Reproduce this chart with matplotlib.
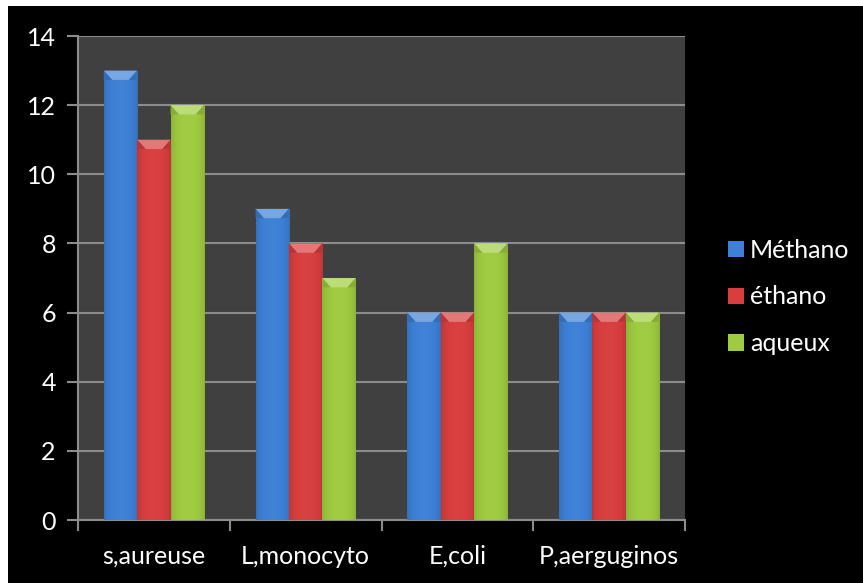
import numpy as np
import matplotlib
matplotlib.use("Agg")
import matplotlib.pyplot as plt
from matplotlib.patches import Rectangle, Polygon, Patch
from matplotlib.colors import to_rgb

plt.rcParams['font.family'] = ['Lato', 'DejaVu Sans']

categories = ["s,aureuse", "L,monocyto", "E,coli", "P,aerguginos"]
series_names = ["Méthano", "éthano", "aqueux"]
methano = [13, 9, 6, 6]
ethano = [11, 8, 6, 6]
aqueux = [12, 7, 8, 6]
yticks = [0, 2, 4, 6, 8, 10, 12, 14]

colors = ["#3d80d6", "#d83e3e", "#9fcb40"]
plot_bg = "#404040"
grid_col = "#8c8c8c"
fs = 18

fig = plt.figure(figsize=(8.63, 5.83), dpi=100, facecolor="white")
# black chart frame, leaving a thin white margin at top and left
fig.patches.append(Rectangle((8 / 863, 0), 1, 1 - 6 / 583, transform=fig.transFigure,
                             facecolor="black", edgecolor="none", zorder=-10))

ax = fig.add_axes([78 / 863, 1 - 520 / 583, (685 - 78) / 863, (520 - 36) / 583])
ax.set_facecolor(plot_bg)

n_cat = len(categories)
x = np.arange(n_cat)
width = 0.22
offsets = [-width, 0, width]
ymax = yticks[-1]

# bevel cap size
cap_h = 0.27  # data units
cap_in = 0.25  # fraction of bar width

def shade(c, f):
    r, g, b = to_rgb(c)
    if f >= 0:
        return (r + (1 - r) * f, g + (1 - g) * f, b + (1 - b) * f)
    f = -f
    return (r * (1 - f), g * (1 - f), b * (1 - f))

for vals, off, col in zip([methano, ethano, aqueux], offsets, colors):
    bars = ax.bar(x + off, vals, width, color=col, edgecolor="none", zorder=3)
    for rect, v in zip(bars, vals):
        x0 = rect.get_x()
        w = rect.get_width()
        # horizontal shading: darker sides, brighter centre
        t = np.linspace(0, 1, 64)
        prof = 0.16 * np.sin(np.pi * t) ** 0.5 - 0.14
        img = np.array([[shade(col, p) for p in prof]])
        im = ax.imshow(img, extent=(x0, x0 + w, 0, v), aspect="auto",
                       interpolation="bilinear", zorder=4)
        im.set_clip_path(rect)
        # bevelled top cap
        cap = Polygon([(x0, v), (x0 + w, v), (x0 + w * (1 - cap_in), v - cap_h),
                       (x0 + w * cap_in, v - cap_h)], closed=True,
                      facecolor=shade(col, 0.3), edgecolor="none", zorder=5)
        ax.add_patch(cap)
        left = Polygon([(x0, v), (x0 + w * cap_in, v - cap_h), (x0, v - cap_h)],
                       closed=True, facecolor=shade(col, -0.15), edgecolor="none", zorder=5)
        right = Polygon([(x0 + w, v), (x0 + w * (1 - cap_in), v - cap_h), (x0 + w, v - cap_h)],
                        closed=True, facecolor=shade(col, -0.15), edgecolor="none", zorder=5)
        ax.add_patch(left)
        ax.add_patch(right)

ax.set_xlim(-0.5, n_cat - 0.5)
ax.set_ylim(0, ymax)
ax.set_yticks(yticks)
ax.yaxis.grid(True, color=grid_col, linewidth=1.5, zorder=1)
ax.set_axisbelow(True)

ax.set_xticks(np.arange(n_cat + 1) - 0.5, minor=False)
ax.set_xticklabels([])
ax.set_xticks(x, minor=True)
ax.set_xticklabels(categories, minor=True)
ax.tick_params(axis="x", which="minor", length=0, pad=18, labelsize=fs, labelcolor="white")
ax.tick_params(axis="x", which="major", length=8, width=1.5, color=grid_col)
ax.tick_params(axis="y", length=8, width=1.5, color=grid_col, labelsize=fs,
               labelcolor="white", pad=8)

for s in ["top", "right"]:
    ax.spines[s].set_visible(False)
for s in ["left", "bottom"]:
    ax.spines[s].set_color(grid_col)
    ax.spines[s].set_linewidth(1.5)

handles = [Patch(facecolor=c, edgecolor="none") for c in colors]
leg = fig.legend(handles, series_names, loc="center left",
                 bbox_to_anchor=(728 / 863, 1 - 297 / 583), frameon=False,
                 fontsize=fs, labelcolor="white", handlelength=0.62, handleheight=0.62,
                 handletextpad=0.25, labelspacing=0.95, borderaxespad=0, borderpad=0)

fig.savefig("out.png", dpi=100, facecolor=fig.get_facecolor())
